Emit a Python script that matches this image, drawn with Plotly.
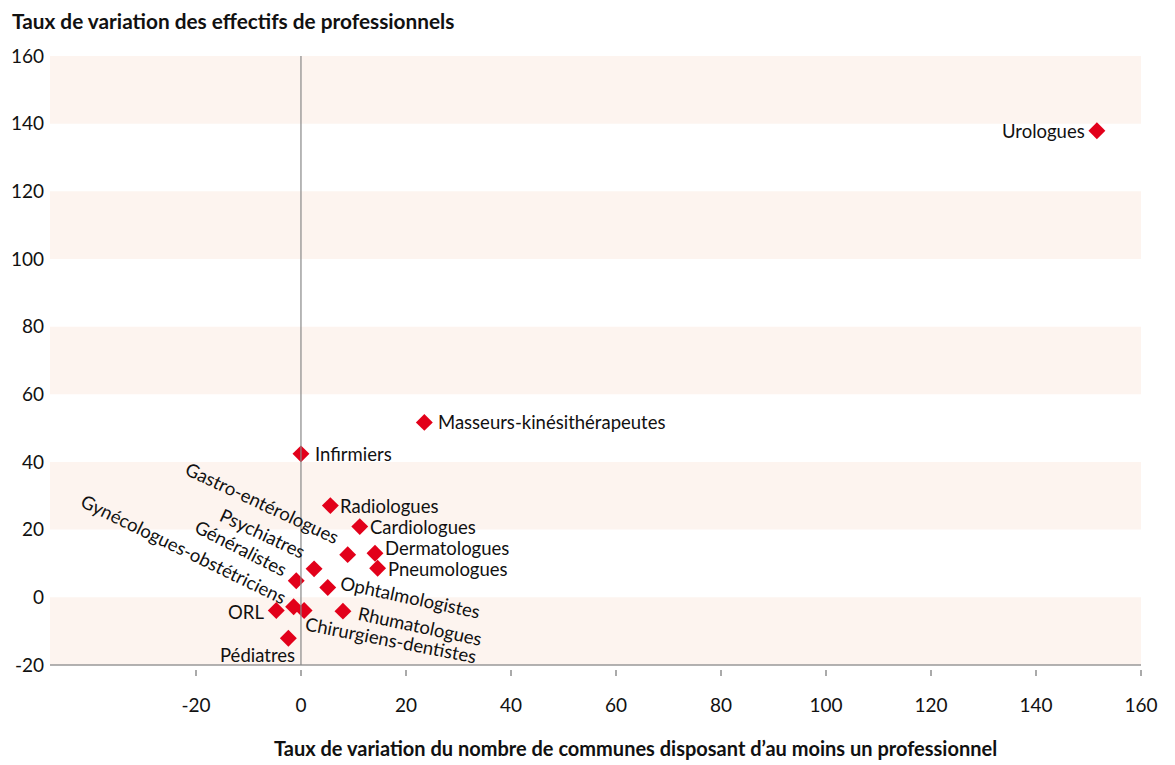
import plotly.graph_objects as go

# ---- data ----
professions = ["Urologues", "Masseurs-kinésithérapeutes", "Infirmiers", "Radiologues",
               "Cardiologues", "Dermatologues", "Gastro-entérologues", "Pneumologues",
               "Psychiatres", "Généralistes", "Ophtalmologistes", "Gynécologues-obstétriciens",
               "Chirurgiens-dentistes", "Rhumatologues", "ORL", "Pédiatres"]
communes_var = [151.6, 23.5, 0.0, 5.6, 11.2, 14.1, 8.9, 14.6, 2.5, -0.9, 5.1, -1.4, 0.6, 8.0, -4.7, -2.4]
effectifs_var = [137.9, 51.7, 42.4, 27.1, 20.9, 13.0, 12.6, 8.6, 8.4, 4.9, 2.9, -2.8, -3.9, -4.1, -3.9, -12.1]

x_ticks = [-20, 0, 20, 40, 60, 80, 100, 120, 140, 160]
y_ticks = [-20, 0, 20, 40, 60, 80, 100, 120, 140, 160]

title_y = "Taux de variation des effectifs de professionnels"
title_x = "Taux de variation du nombre de communes disposant d\u2019au moins un professionnel"

# ---- label placement (style) ----
label_style = {
    "Urologues": dict(xanchor="right", xshift=-10, yshift=0, angle=0),
    "Masseurs-kinésithérapeutes": dict(xanchor="left", xshift=12, yshift=0, angle=0),
    "Infirmiers": dict(xanchor="left", xshift=12, yshift=0, angle=0),
    "Radiologues": dict(xanchor="left", xshift=8, yshift=0, angle=0),
    "Cardiologues": dict(xanchor="left", xshift=8, yshift=0, angle=0),
    "Dermatologues": dict(xanchor="left", xshift=8, yshift=5, angle=0),
    "Pneumologues": dict(xanchor="left", xshift=8, yshift=-1, angle=0),
    "Gastro-entérologues": dict(xanchor="center", xshift=-85, yshift=52, angle=25),
    "Psychiatres": dict(xanchor="center", xshift=-52, yshift=36, angle=25),
    "Généralistes": dict(xanchor="center", xshift=-55, yshift=33, angle=27),
    "Gynécologues-obstétriciens": dict(xanchor="center", xshift=-110, yshift=58, angle=26),
    "Ophtalmologistes": dict(xanchor="center", xshift=82, yshift=-10, angle=12),
    "Rhumatologues": dict(xanchor="center", xshift=77, yshift=-15, angle=12),
    "Chirurgiens-dentistes": dict(xanchor="center", xshift=87, yshift=-30, angle=11),
    "ORL": dict(xanchor="right", xshift=-10, yshift=-2, angle=0),
    "Pédiatres": dict(xanchor="center", xshift=-31, yshift=-17, angle=0),
}

FONT = "Lato"
band_color = "#FDF4EF"
red = "#E2001A"

# the page body has an 8px margin: the figure is sized/offset to fit the window
W, H = 1167, 757
ML, MR, MT, MB = 42, 34, 48, 96

fig = go.Figure()
fig.add_trace(go.Scatter(
    x=communes_var, y=effectifs_var, mode="markers",
    marker=dict(symbol="diamond", size=13, color=red),
    hoverinfo="text", text=professions, showlegend=False,
))

shapes = []
# horizontal bands: every other interval of the y ticks, starting at the bottom
for i in range(0, len(y_ticks) - 1, 2):
    shapes.append(dict(type="rect", xref="paper", yref="y", x0=0, x1=1,
                       y0=y_ticks[i], y1=y_ticks[i + 1], fillcolor=band_color,
                       line=dict(width=0), layer="below"))
# bottom axis line at lowest tick
shapes.append(dict(type="line", xref="paper", yref="y", x0=0, x1=1,
                   y0=y_ticks[0], y1=y_ticks[0], line=dict(color="#999999", width=1.5)))
# vertical line at x=0
shapes.append(dict(type="line", xref="x", yref="y", x0=0, x1=0,
                   y0=y_ticks[0], y1=y_ticks[-1], line=dict(color="#888888", width=1.2)))

annotations = []
for name, xv, yv in zip(professions, communes_var, effectifs_var):
    s = label_style[name]
    annotations.append(dict(x=xv, y=yv, xref="x", yref="y", text=name, showarrow=False,
                            xanchor=s["xanchor"], yanchor="middle", xshift=s["xshift"],
                            yshift=s["yshift"], textangle=s["angle"],
                            font=dict(family=FONT, size=18.5, color="#111111")))
annotations.append(dict(x=0.537, y=-0.129, xref="paper", yref="paper", text=title_x,
                        showarrow=False, xanchor="center", yanchor="middle",
                        font=dict(family=FONT, size=20, color="#111111", weight=700)))
plot_h = H - MT - MB
annotations.append(dict(x=0, y=1 + (MT - 12) / plot_h, xref="paper", yref="paper",
                        xshift=-(ML - 2), text=title_y, showarrow=False,
                        xanchor="left", yanchor="middle",
                        font=dict(family=FONT, size=20.8, color="#111111", weight=700)))

fig.update_layout(
    width=W, height=H,
    margin=dict(l=ML, r=MR, t=MT, b=MB),
    plot_bgcolor="white", paper_bgcolor="white",
    xaxis=dict(range=[-47.8, 160], tickvals=x_ticks, ticktext=[str(v) for v in x_ticks],
               showgrid=False, zeroline=False, showline=False, automargin=False,
               ticks="outside", ticklen=6, tickwidth=2, tickcolor="#aaaaaa",
               ticklabelstandoff=13,
               tickfont=dict(family=FONT, size=19, color="#111111")),
    yaxis=dict(range=[-21.2, 160], tickvals=y_ticks, ticktext=[str(v) for v in y_ticks],
               showgrid=False, zeroline=False, showline=False, ticks="", automargin=False,
               ticklabelstandoff=5,
               tickfont=dict(family=FONT, size=19, color="#111111")),
    shapes=shapes, annotations=annotations,
)

fig.write_html("out.html")
